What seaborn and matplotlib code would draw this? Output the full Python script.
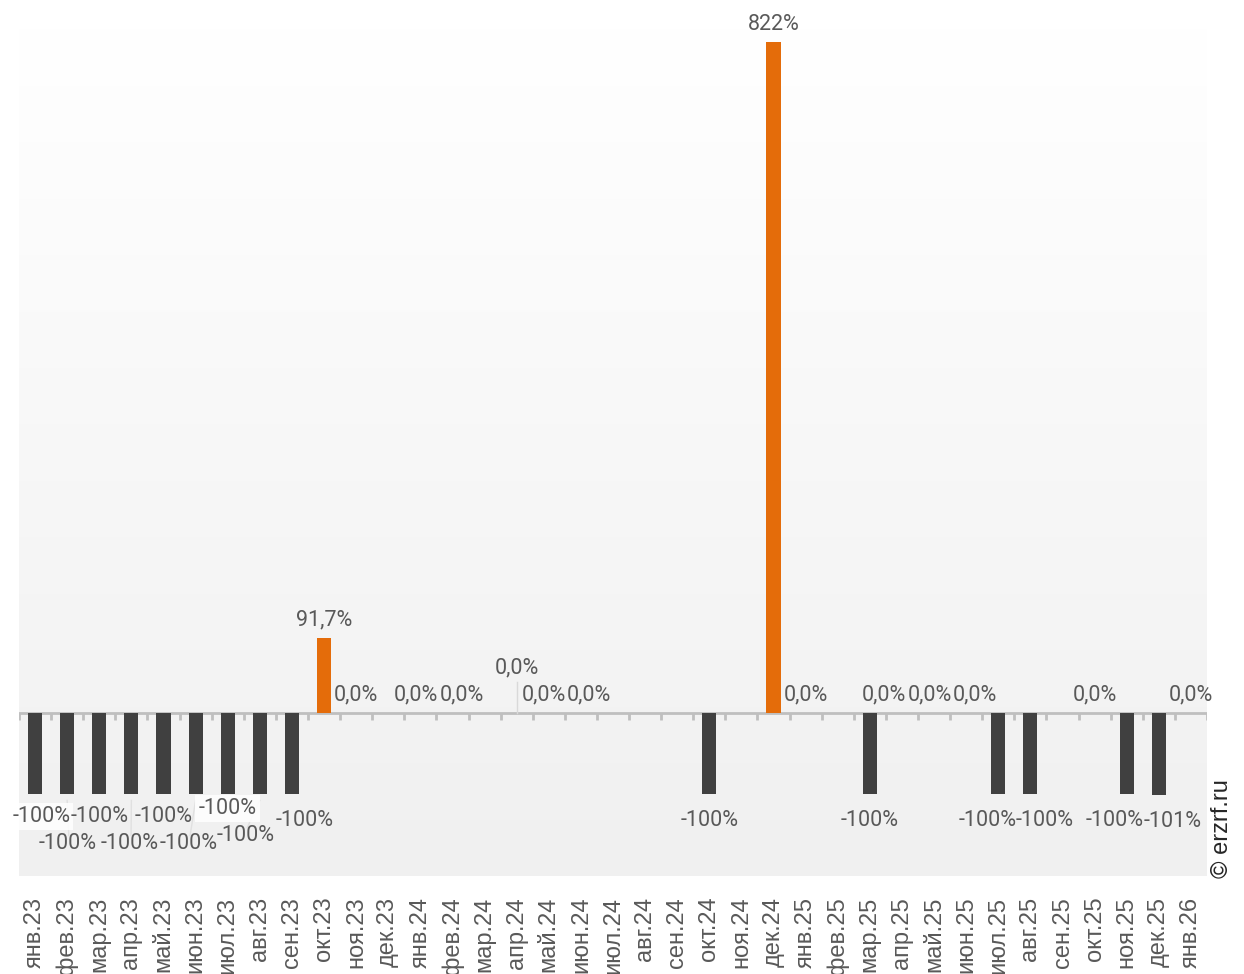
import numpy as np
import pandas as pd
import matplotlib
matplotlib.use("Agg")
import matplotlib.pyplot as plt
import seaborn as sns

# ---- data ----
categories = ["янв.23", "фев.23", "мар.23", "апр.23", "май.23", "июн.23", "июл.23", "авг.23", "сен.23",
              "окт.23", "ноя.23", "дек.23", "янв.24", "фев.24", "мар.24", "апр.24", "май.24", "июн.24",
              "июл.24", "авг.24", "сен.24", "окт.24", "ноя.24", "дек.24", "янв.25", "фев.25", "мар.25",
              "апр.25", "май.25", "июн.25", "июл.25", "авг.25", "сен.25", "окт.25", "ноя.25", "дек.25",
              "янв.26"]
values = [-100, -100, -100, -100, -100, -100, -100, -100, -100,
          91.7, 0.0, None, 0.0, 0.0, None, 0.0, 0.0, 0.0,
          None, None, None, -100, None, 822, 0.0, None, -100,
          0.0, 0.0, 0.0, -100, -100, None, 0.0, -100, -101,
          0.0]
value_labels = ["-100%"] * 9 + ["91,7%", "0,0%", "", "0,0%", "0,0%", "", "0,0%", "0,0%", "0,0%",
                "", "", "", "-100%", "", "822%", "0,0%", "", "-100%",
                "0,0%", "0,0%", "0,0%", "-100%", "-100%", "", "0,0%", "-100%", "-101%",
                "0,0%"]

# label placement adjustments (x offset in categories, y offset in px) to mimic de-overlapped labels
label_dx = {0: 0.19, 3: -0.06, 5: -0.22, 7: -0.44, 8: 0.4, 12: -0.15, 13: 0.28, 16: -0.15, 17: 0.25,
            27: -0.56, 28: -0.12, 29: 0.28, 30: -0.34, 31: 0.44, 34: -0.37, 35: 0.44}
label_dy = {0: -4, 1: 23, 2: -4, 3: 23, 4: -4, 5: 23, 6: -12, 7: 15, 15: 27}

# ---- figure ----
W, H, DPI = 1244, 974, 100
fig = plt.figure(figsize=(W / DPI, H / DPI), dpi=DPI)
fig.patch.set_facecolor("white")
L, R, T, B = 19, 1207, 26, 876
ax = fig.add_axes([L / W, 1 - B / H, (R - L) / W, (B - T) / H])

ymin, ymax = -200, 842
ppu = (B - T) / (ymax - ymin)  # px per %

# gradient background (white at top, light grey at bottom)
grad = np.linspace(0, 1, 256).reshape(-1, 1)
cmap = matplotlib.colors.LinearSegmentedColormap.from_list("bg", ["#ffffff", "#f0f0f0"])
ax.imshow(grad, aspect="auto", cmap=cmap, extent=[0, 1, 0, 1], origin="upper",
          transform=ax.transAxes, zorder=0)

df = pd.DataFrame({"cat": categories, "val": [0 if v is None else v for v in values]})
colors = ["#E46C0A" if (v is not None and v > 0) else "#404040" for v in values]
sns.barplot(data=df, x="cat", y="val", hue="cat", palette=colors, order=categories,
            width=0.44, legend=False, ax=ax, zorder=3, saturation=1)

n = len(categories)
ax.set_xlim(-0.5, n - 0.5)
ax.set_ylim(ymin, ymax)

# zero axis line with tick marks at category boundaries
ax.axhline(0, color="#bfbfbf", lw=2, zorder=2)
bounds = np.arange(n + 1) - 0.5
ax.vlines(bounds, -7 / ppu, 0, color="#bfbfbf", lw=2, zorder=2)

for s in ax.spines.values():
    s.set_visible(False)
ax.set_xlabel("")
ax.set_ylabel("")
ax.set_yticks([])
ax.set_xticks(range(n))
ax.set_xticklabels(categories, rotation=90, va="top", ha="center",
                   fontsize=17, color="#595959", family=["Liberation Sans", "DejaVu Sans"])
ax.tick_params(axis="x", length=0, pad=15)

# data labels
lab_font = dict(fontsize=15.5, color="#595959", family=["Roboto", "DejaVu Sans"])
for i, (v, lab) in enumerate(zip(values, value_labels)):
    if v is None or lab == "":
        continue
    x = i + label_dx.get(i, 0.0)
    dy = label_dy.get(i, 0)
    if v >= 0:
        y = v + (18 + dy) / ppu
        ax.text(x, y, lab, ha="center", va="center", zorder=5, **lab_font)
        if i in label_dy:
            ax.plot([i, i], [0, y - 14 / ppu], color="#d9d9d9", lw=1, zorder=2)
    else:
        y = v - (26 + dy) / ppu
        kw = {}
        if i in (0, 6):
            kw["bbox"] = dict(boxstyle="square,pad=0.15", fc="white", ec="none", alpha=0.85)
        ax.text(x, y, lab, ha="center", va="center", zorder=5, **lab_font, **kw)
        if i in (1, 3, 5, 7):
            ax.plot([i, x + 0.05], [v - 6 / ppu, y + 8 / ppu], color="#e0e0e0", lw=1, zorder=2)

fig.text(1222 / W, 1 - 829 / H, "© erzrf.ru", rotation=90, ha="center", va="center",
         fontsize=17, color="#262626", family=["Liberation Sans", "DejaVu Sans"])

fig.savefig("out.png", dpi=DPI, facecolor="white")
